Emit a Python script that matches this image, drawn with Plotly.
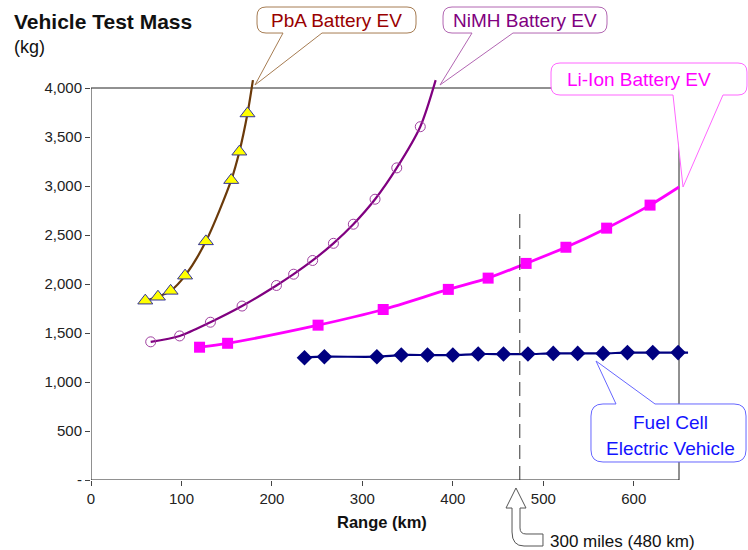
import plotly.graph_objects as go

# --- data ---
pba_range = [60, 74, 88, 104, 127, 155, 164, 173]
pba_mass = [1830, 1870, 1930, 2085, 2435, 3060, 3350, 3740]
pba_tail = (179, 4080)

nimh_range = [66, 98, 132, 167, 205, 224, 245, 268, 290, 314, 338, 364]
nimh_mass = [1410, 1470, 1610, 1775, 1985, 2100, 2240, 2415, 2610, 2865, 3185, 3605]
nimh_tail = (381, 4080)

liion_range = [120, 151, 251, 323, 395, 439, 481, 525, 570, 618]
liion_mass = [1355, 1395, 1580, 1740, 1945, 2060, 2210, 2375, 2570, 2805]
liion_tail = (650, 2990)

fcev_range = [236, 258, 316, 343, 372, 400, 428, 456, 483, 511, 538, 566, 593, 621, 649]
fcev_mass = [1248, 1258, 1258, 1275, 1275, 1275, 1285, 1285, 1285, 1292, 1292, 1292, 1300, 1300, 1300]
fcev_tail = (660, 1300)

x_ticks = [0, 100, 200, 300, 400, 500, 600]
y_ticks = [0, 500, 1000, 1500, 2000, 2500, 3000, 3500, 4000]
y_ticktext = ["-"] + [f"{v:,}" for v in y_ticks[1:]]

TARGET_KM = 474
TARGET_TOP = 2735
X_END, Y_END = 650, 4000

# --- geometry (pixels) ---
W, H = 748, 550
L, R, T, B = 91, 57, 78, 70
PW, PH = W - L - R, H - T - B
XMAX = PW * X_END / 588
YMAX = PH * Y_END / 392

ARIAL = "Liberation Sans, Arial, sans-serif"


def px(x, y):
    return (x - L) / PW, (H - B - y) / PH


def path(points):
    # points: list of (cmd, [(x, y), ...]) in pixels
    out = []
    for cmd, pts in points:
        coords = " ".join(f"{a:.4f},{b:.4f}" for a, b in (px(*p) for p in pts))
        out.append(f"{cmd}{coords}")
    return " ".join(out) + " Z"


def callout(x0, y0, x1, y1, b0, b1, tip, top=False, r=9):
    segs = [("M", [(x0 + r, y0)])]
    if top:
        segs += [("L", [(b0, y0)]), ("L", [tip]), ("L", [(b1, y0)])]
    segs += [("L", [(x1 - r, y0)]), ("Q", [(x1, y0), (x1, y0 + r)]),
             ("L", [(x1, y1 - r)]), ("Q", [(x1, y1), (x1 - r, y1)])]
    if not top:
        segs += [("L", [(b1, y1)]), ("L", [tip]), ("L", [(b0, y1)])]
    segs += [("L", [(x0 + r, y1)]), ("Q", [(x0, y1), (x0, y1 - r)]),
             ("L", [(x0, y0 + r)]), ("Q", [(x0, y0), (x0 + r, y0)])]
    return path(segs)


fig = go.Figure()

series = [
    (pba_range, pba_mass, pba_tail, "#6B3A0A", 2.2,
     dict(symbol="triangle-up", size=13, color="#FFFF00", line=dict(color="#333399", width=1))),
    (nimh_range, nimh_mass, nimh_tail, "#800080", 2.2,
     dict(symbol="circle-open", size=10, color="#A040A0", line=dict(width=1))),
    (liion_range, liion_mass, liion_tail, "#FF00FF", 2.8,
     dict(symbol="square", size=11, color="#FF00FF")),
    (fcev_range, fcev_mass, fcev_tail, "#000080", 2.2,
     dict(symbol="diamond", size=12, color="#000080")),
]

for xs, ys, tail, col, w, mk in series:
    fig.add_trace(go.Scatter(x=xs + [tail[0]], y=ys + [tail[1]], mode="lines",
                             line=dict(color=col, width=w, shape="spline", smoothing=0.8),
                             hoverinfo="skip", showlegend=False))
    fig.add_trace(go.Scatter(x=xs, y=ys, mode="markers", marker=mk,
                             showlegend=False, cliponaxis=False))

shapes = [
    dict(type="rect", xref="x", yref="y", x0=0, x1=X_END, y0=0, y1=Y_END,
         line=dict(color="#222", width=1), layer="below"),
    dict(type="line", xref="x", yref="y", x0=TARGET_KM, x1=TARGET_KM, y0=0, y1=TARGET_TOP,
         line=dict(color="#333", width=1, dash="14px,7px")),
    dict(type="path", xref="paper", yref="paper", layer="above",
         path=callout(257, 7, 416, 33, 283, 322, (255, 85)),
         fillcolor="white", line=dict(color="#A67C52", width=1)),
    dict(type="path", xref="paper", yref="paper", layer="above",
         path=callout(443, 7, 607, 33, 472, 513, (440, 85)),
         fillcolor="white", line=dict(color="#B266B2", width=1)),
    dict(type="path", xref="paper", yref="paper", layer="above",
         path=callout(551, 63, 747, 95, 673, 723, (683, 187)),
         fillcolor="white", line=dict(color="#FF66FF", width=1)),
    dict(type="path", xref="paper", yref="paper", layer="above",
         path=callout(591, 404, 746, 462, 616, 655, (596, 361), top=True, r=12),
         fillcolor="white", line=dict(color="#6666FF", width=1)),
    # bent arrow pointing at 300 miles
    dict(type="path", xref="paper", yref="paper", layer="above",
         path=path([("M", [(516, 488)]), ("L", [(526, 508)]), ("L", [(520, 508)]),
                    ("L", [(520, 528)]), ("Q", [(520, 534), (526, 534)]), ("L", [(543, 534)]),
                    ("L", [(543, 546)]), ("L", [(524, 546)]), ("Q", [(512, 546), (512, 532)]),
                    ("L", [(512, 508)]), ("L", [(506, 508)])]),
         fillcolor="white", line=dict(color="#555", width=1)),
]


def note(text, x, y, size, color, bold=False, xanchor="center"):
    xp, yp = px(x, y)
    return dict(text=f"<b>{text}</b>" if bold else text, x=xp, y=yp, xref="paper", yref="paper",
                xanchor=xanchor, yanchor="middle", showarrow=False,
                font=dict(family=ARIAL, size=size, color=color))


annotations = [
    note("Vehicle Test Mass", 12, 22, 21, "#111", bold=True, xanchor="left"),
    note("(kg)", 12, 47, 18, "#111", xanchor="left"),
    note("Range (km)", 382, 522, 16.5, "#111", bold=True),
    note("PbA Battery EV", 336, 20, 19, "#990000"),
    note("NiMH Battery EV", 525, 20, 19, "#800080"),
    note("Li-Ion Battery EV", 639, 79, 19, "#FF00FF"),
    note("Fuel Cell", 670, 422, 19, "#1414FF"),
    note("Electric Vehicle", 670, 448, 19, "#1414FF"),
    note("300 miles (480 km)", 548, 541, 17, "#111", xanchor="left"),
]

fig.update_layout(
    width=W, height=H,
    margin=dict(l=L, r=R, t=T, b=B, pad=0),
    paper_bgcolor="white", plot_bgcolor="white",
    shapes=shapes, annotations=annotations,
    font=dict(family=ARIAL, size=15, color="#222"),
    xaxis=dict(range=[0, XMAX], tickvals=x_ticks, showgrid=False, zeroline=False,
               showline=False, ticks="outside", ticklen=5, tickcolor="#444"),
    yaxis=dict(range=[0, YMAX], tickvals=y_ticks, ticktext=y_ticktext, showgrid=False,
               zeroline=False, showline=False, ticks="outside", ticklen=5, tickcolor="#444"),
)

# page body has a default 8px margin; drop it so the figure sits at the window corner
fig.write_html("out.html", config={"displayModeBar": False},
               post_script="document.body.style.margin='0';")
